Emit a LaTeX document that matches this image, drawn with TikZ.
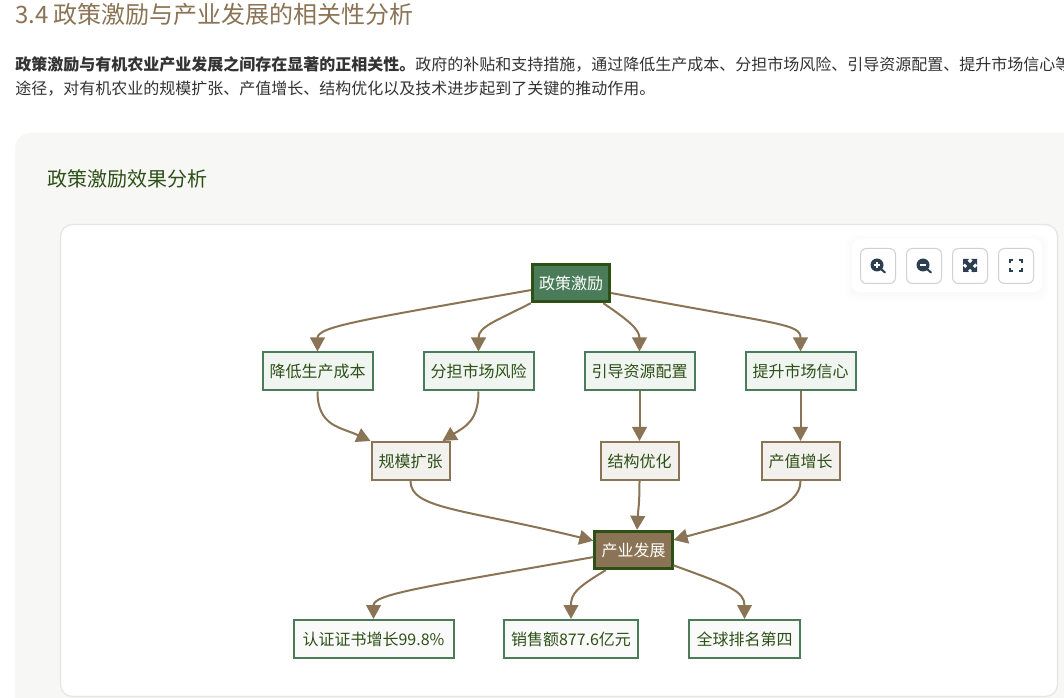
\documentclass[tikz,border=0pt]{standalone}
\usepackage{fontspec}
\usepackage{xcolor}
\setmainfont{Noto Sans CJK SC}
\usetikzlibrary{arrows.meta}
\definecolor{browny}{HTML}{8B7355}
\definecolor{greeny}{HTML}{4A7C59}
\definecolor{darkgreen}{HTML}{2D5016}
\definecolor{panelbg}{HTML}{F7F7F5}
\definecolor{iconblue}{HTML}{2C3E50}
\tikzset{
  box/.style={draw,line width=1.5pt,inner sep=0pt,font=\fontsize{12pt}{14pt}\selectfont,text=darkgreen},
  measure/.style={box,draw=greeny,fill=greeny!8,minimum width=82.5pt,minimum height=28.5pt},
  effect/.style={box,draw=browny,fill=browny!10,minimum width=58.5pt,minimum height=28.5pt},
  result/.style={box,draw=greeny,fill=black!2,minimum height=28.5pt},
  hub/.style={box,draw=darkgreen,line width=2.25pt,text=white,minimum width=58pt,minimum height=28pt},
  link/.style={draw=browny,line width=1.5pt,-{Triangle[length=10.5pt,width=11pt]}},
  tool/.style={draw=black!18,fill=white,line width=0.75pt,rounded corners=4.5pt},
  body/.style={anchor=west,inner sep=0pt,font=\fontsize{12pt}{14pt}\selectfont,text=black!80},
}
\begin{document}
\begin{tikzpicture}[x=0.75pt,y=-0.75pt]
  \clip[use as bounding box] (0,0) rectangle (1064,698);
  \fill[white] (0,0) rectangle (1064,698);
  % panels
  \fill[panelbg,rounded corners=12pt] (15,133) rectangle (1090,740);
  \draw[black!10,fill=white,line width=0.9pt,rounded corners=9pt] (60.5,224.5) rectangle (1057.5,696.5);
  % headings
  \node[anchor=west,inner sep=0pt,text=browny,font=\fontsize{18pt}{20pt}\selectfont] (title) at (15,14) {3.4 政策激励与产业发展的相关性分析};
  \node[body] (line1) at (15,64) {\textbf{政策激励与有机农业产业发展之间存在显著的正相关性。}政府的补贴和支持措施，通过降低生产成本、分担市场风险、引导资源配置、提升市场信心等};
  \node[body] (line2) at (15,89) {途径，对有机农业的规模扩张、产值增长、结构优化以及技术进步起到了关键的推动作用。};
  \node[anchor=west,inner sep=0pt,text=darkgreen,font=\fontsize{15pt}{17pt}\selectfont] (subtitle) at (47,179) {政策激励效果分析};
  % toolbar
  \foreach \r/\g in {6/0.6,4/1.2,2/2}
    \fill[black!\g,rounded corners=6pt] (852-\r,239-\r+2) rectangle (1042+\r,292+\r+2);
  \fill[white,rounded corners=6pt] (852,239) rectangle (1042,292);
  \foreach \x in {860,906,952,998}
    \draw[tool] (\x+0.5,248.5) rectangle (\x+35.5,283.5);
  \foreach \x in {877,923}{
    \draw[iconblue,line width=1.5pt,line cap=round] (\x+4,269) -- (\x+8,272.5);
    \fill[iconblue] (\x,265) circle (6.5);
  }
  \draw[white,line width=1pt] (874,265) -- (880,265) (877,262) -- (877,268);
  \draw[white,line width=1pt] (920,265) -- (926,265);
  \draw[iconblue,line width=2.8pt] (965,261) -- (975,271) (975,261) -- (965,271);
  \fill[iconblue] (963,259) -- (969,259) -- (963,265) -- cycle (977,259) -- (971,259) -- (977,265) -- cycle
    (963,272) -- (969,272) -- (963,266) -- cycle (977,272) -- (971,272) -- (977,266) -- cycle;
  \draw[iconblue,line width=1.4pt] (1010,263) -- (1010,260) -- (1013,260) (1019,260) -- (1022,260) -- (1022,263)
    (1022,268) -- (1022,271) -- (1019,271) (1013,271) -- (1010,271) -- (1010,268);
  % diagram
  \node[hub,fill=greeny] (policy) at (571,283) {政策激励};
  \node[measure] (cost) at (317.5,371.5) {降低生产成本};
  \node[measure] (risk) at (478.5,371.5) {分担市场风险};
  \node[measure] (alloc) at (639.5,371.5) {引导资源配置};
  \node[measure] (trust) at (800.5,371.5) {提升市场信心};
  \node[effect] (growth) at (410.5,461) {规模扩张};
  \node[effect] (struct) at (639.5,461) {结构优化};
  \node[effect] (value) at (800.5,461) {产值增长};
  \node[hub,fill=browny] (dev) at (633.5,550) {产业发展};
  \node[result,minimum width=120pt] (cert) at (373.5,639) {认证证书增长99.8\%};
  \node[result,minimum width=101pt] (sales) at (571,639) {销售额877.6亿元};
  \node[result,minimum width=83pt] (rank) at (744.5,639) {全球排名第四};
  \draw[link] (policy.190) .. controls +(-170,30) and +(0,-25) .. (cost.north);
  \draw[link] (policy.south west) .. controls +(-35,18) and +(0,-25) .. (risk.north);
  \draw[link] (policy.328) .. controls +(25,17) and +(0,-22) .. (alloc.north);
  \draw[link] (policy.346) .. controls +(170,32) and +(0,-28) .. (trust.north);
  \draw[link] (cost.south) .. controls +(0,35) and +(-30,-14) .. (growth.north west);
  \draw[link] (risk.south) .. controls +(0,30) and +(22,-14) .. (growth.32);
  \draw[link] (alloc.south) -- (struct.north);
  \draw[link] (trust.south) -- (value.north);
  \draw[link] (growth.south) .. controls +(0,28) and +(-130,-32) .. (dev.167);
  \draw[link] (struct.south) .. controls +(0,25) and +(1,-20) .. (dev.80);
  \draw[link] (value.south) .. controls +(0,28) and +(80,-22) .. (dev.14);
  \draw[link] (dev.190) .. controls +(-170,30) and +(0,-25) .. (cert.north);
  \draw[link] (dev.216) .. controls +(-30,18) and +(0,-25) .. (sales.north);
  \draw[link] (dev.339) .. controls +(55,20) and +(0,-28) .. (rank.north);
\end{tikzpicture}
\end{document}
